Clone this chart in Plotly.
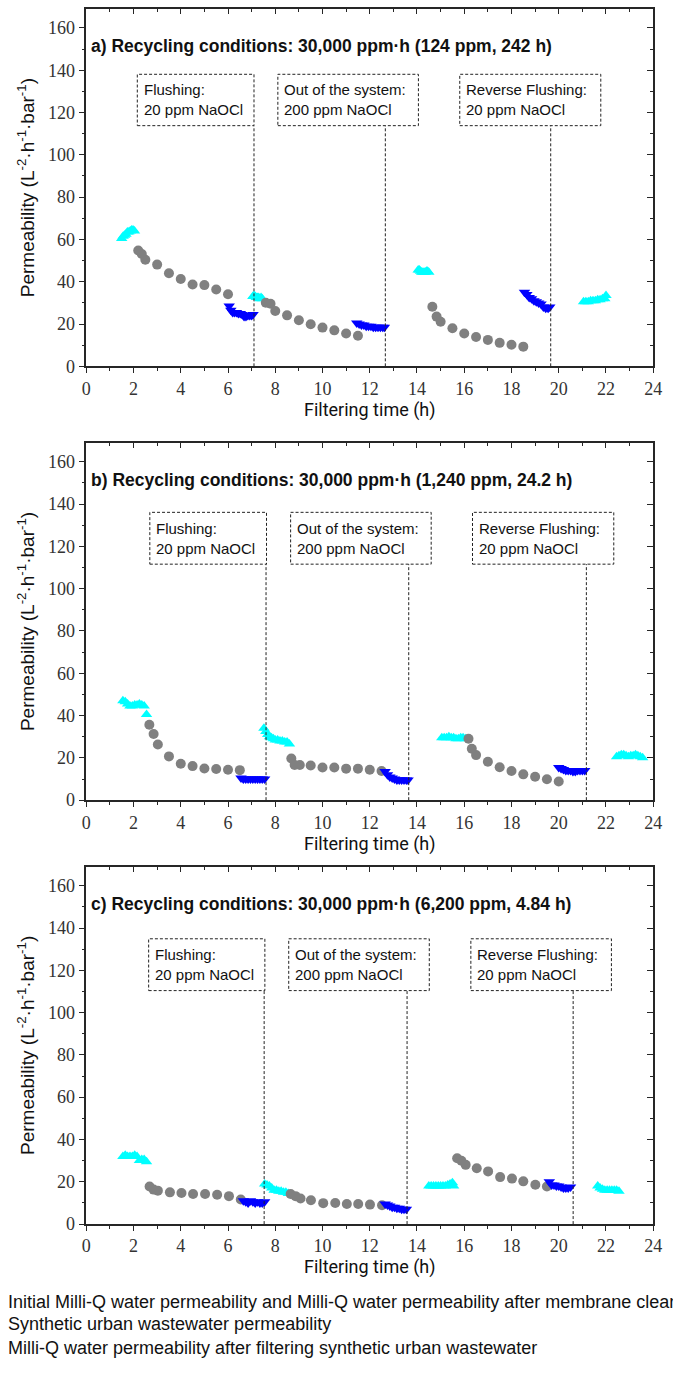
import plotly.graph_objects as go

# ---------------- data ----------------
# Panel a) 124 ppm, 242 h
a_mq_x = [1.50, 1.56, 1.62, 1.68, 1.74, 1.80, 1.86, 1.92, 1.98, 2.04,
          7.05, 7.10, 7.15, 7.20, 7.25, 7.30, 7.35, 7.40, 7.45,
          14.05, 14.10, 14.15, 14.20, 14.25, 14.30, 14.35, 14.40, 14.45, 14.50,
          21.05, 21.15, 21.25, 21.35, 21.45, 21.55, 21.65, 21.75, 21.85, 21.95, 22.00]
a_mq_y = [60.5, 61.5, 62.0, 62.5, 63.5, 63.5, 64.0, 64.5, 64.5, 64.0,
          33.0, 33.5, 33.0, 32.5, 32.5, 32.5, 32.0, 32.5, 32.0,
          45.5, 45.5, 45.0, 44.5, 44.5, 44.5, 44.5, 45.0, 45.0, 44.5,
          30.5, 30.5, 30.5, 31.0, 31.0, 31.0, 31.5, 31.5, 32.0, 32.0, 33.5]
a_ww_x = [2.2, 2.35, 2.5, 3.0, 3.5, 4.0, 4.5, 5.0, 5.5, 6.0,
          7.6, 7.8, 8.0, 8.5, 9.0, 9.5, 10.0, 10.5, 11.0, 11.5,
          14.65, 14.83, 15.0, 15.5, 16.0, 16.5, 17.0, 17.5, 18.0, 18.5]
a_ww_y = [54.8, 53.1, 50.4, 48.1, 44.0, 41.3, 38.7, 38.4, 36.3, 34.1,
          30.1, 29.6, 26.2, 24.1, 21.8, 19.9, 18.3, 17.0, 15.5, 14.5,
          28.2, 23.5, 21.1, 18.0, 15.5, 13.9, 12.5, 11.1, 10.2, 9.3]
a_af_x = [6.05, 6.12, 6.20, 6.28, 6.36, 6.44, 6.52, 6.60, 6.68, 6.76, 6.84, 6.92, 7.00, 7.06,
          11.45, 11.55, 11.65, 11.75, 11.85, 11.95, 12.05, 12.15, 12.25, 12.35, 12.45, 12.55, 12.62,
          18.55, 18.65, 18.75, 18.85, 18.95, 19.05, 19.15, 19.25, 19.35, 19.45, 19.55, 19.62]
a_af_y = [28.5, 26.5, 25.5, 25.5, 25.5, 25.0, 25.0, 24.5, 23.5, 23.5, 24.0, 24.0, 24.0, 24.5,
          20.5, 20.0, 19.5, 19.5, 19.0, 19.0, 19.0, 18.5, 18.5, 18.5, 18.5, 18.5, 18.5,
          35.0, 34.0, 32.5, 32.0, 31.0, 30.5, 30.0, 29.5, 28.0, 27.5, 27.5, 28.0]

# Panel b) 1,240 ppm, 24.2 h
b_mq_x = [1.55, 1.65, 1.75, 1.85, 1.95, 2.05, 2.15, 2.25, 2.35, 2.45, 2.55,
          7.52, 7.60, 7.68, 7.76, 7.84, 7.92, 8.00, 8.10, 8.20, 8.30, 8.40, 8.50, 8.60,
          15.05, 15.15, 15.25, 15.35, 15.45, 15.55, 15.65, 15.75, 15.85, 15.95, 16.05,
          22.45, 22.55, 22.65, 22.75, 22.85, 22.95, 23.05, 23.15, 23.25, 23.35, 23.45, 23.55]
b_mq_y = [47.0, 46.5, 45.5, 44.5, 44.5, 45.0, 45.0, 45.5, 45.0, 44.5, 40.5,
          34.0, 32.5, 31.0, 30.0, 29.5, 29.0, 28.5, 28.5, 28.0, 28.0, 27.5, 27.5, 26.5,
          29.5, 29.5, 29.5, 30.0, 29.5, 29.5, 29.0, 29.0, 29.5, 29.5, 29.0,
          20.5, 21.0, 21.5, 21.5, 21.0, 20.5, 21.0, 21.0, 21.5, 21.0, 20.5, 20.0]
b_ww_x = [2.67, 2.85, 3.03, 3.5, 4.0, 4.5, 5.0, 5.5, 6.0, 6.5,
          8.68, 8.82, 9.04, 9.5, 10.0, 10.5, 11.0, 11.5, 12.0, 12.5,
          16.18, 16.32, 16.5, 17.0, 17.5, 18.0, 18.5, 19.0, 19.5, 20.0]
b_ww_y = [35.7, 31.3, 26.3, 20.7, 17.2, 16.1, 15.0, 14.7, 14.4, 14.2,
          19.7, 16.6, 16.6, 16.4, 15.4, 15.4, 14.9, 14.9, 14.4, 13.8,
          29.0, 24.3, 21.3, 18.2, 15.6, 13.8, 12.2, 11.1, 9.9, 8.8]
b_af_x = [6.55, 6.65, 6.75, 6.85, 6.95, 7.05, 7.15, 7.25, 7.35, 7.45, 7.55,
          12.65, 12.75, 12.85, 12.95, 13.05, 13.15, 13.25, 13.35, 13.45, 13.55, 13.62,
          20.00, 20.10, 20.20, 20.30, 20.40, 20.50, 20.60, 20.70, 20.80, 20.90, 21.00, 21.10]
b_af_y = [10.5, 10.0, 10.0, 10.0, 10.0, 10.0, 10.0, 10.0, 10.0, 10.0, 10.0,
          13.5, 12.0, 11.0, 10.5, 10.0, 9.5, 9.5, 9.5, 9.5, 9.5, 9.5,
          15.5, 15.0, 14.5, 14.0, 14.0, 14.0, 13.5, 13.5, 14.0, 14.0, 14.0, 14.0]

# Panel c) 6,200 ppm, 4.84 h
c_mq_x = [1.55, 1.65, 1.75, 1.85, 1.95, 2.05, 2.15, 2.25, 2.35, 2.45, 2.55,
          7.55, 7.65, 7.75, 7.85, 7.95, 8.05, 8.15, 8.25, 8.35, 8.45, 8.55,
          14.50, 14.60, 14.70, 14.80, 14.90, 15.00, 15.10, 15.20, 15.30, 15.40, 15.50, 15.55,
          21.65, 21.75, 21.85, 21.95, 22.05, 22.15, 22.25, 22.35, 22.45, 22.55]
c_mq_y = [32.0, 32.5, 32.0, 32.0, 32.0, 32.5, 32.0, 30.0, 30.5, 30.5, 29.5,
          19.0, 18.5, 18.0, 17.0, 16.0, 16.0, 15.5, 15.5, 15.0, 15.0, 14.5,
          18.0, 18.0, 18.0, 18.0, 18.0, 18.0, 18.0, 18.0, 18.5, 19.0, 19.5, 18.0,
          18.0, 17.0, 16.5, 16.0, 16.0, 16.0, 16.0, 16.0, 16.0, 15.5]
c_ww_x = [2.68, 2.85, 3.03, 3.54, 4.03, 4.52, 5.03, 5.54, 6.04, 6.54,
          8.65, 8.86, 9.07, 9.51, 10.03, 10.54, 11.03, 11.51, 12.01, 12.52,
          15.7, 15.88, 16.06, 16.53, 17.01, 17.52, 18.02, 18.5, 19.01, 19.5]
c_ww_y = [17.8, 16.3, 15.8, 15.0, 14.7, 14.2, 14.2, 13.9, 13.2, 11.6,
          14.2, 13.2, 12.1, 11.3, 9.9, 10.0, 9.5, 9.5, 9.2, 8.9,
          31.1, 29.9, 28.0, 26.4, 24.9, 22.2, 21.5, 20.2, 18.6, 17.8]
c_af_x = [6.65, 6.75, 6.85, 6.95, 7.05, 7.15, 7.25, 7.35, 7.45, 7.55,
          12.65, 12.75, 12.85, 12.95, 13.05, 13.15, 13.25, 13.35, 13.45, 13.55,
          19.60, 19.70, 19.80, 19.90, 20.00, 20.10, 20.20, 20.30, 20.40, 20.50]
c_af_y = [11.0, 10.5, 10.0, 11.0, 10.5, 10.0, 10.5, 10.0, 10.0, 10.5,
          9.5, 9.0, 8.5, 8.0, 8.0, 7.5, 7.5, 7.0, 7.0, 7.0,
          20.0, 18.5, 18.5, 18.0, 18.0, 17.5, 17.0, 17.0, 17.0, 17.5]

panel_titles = [
    "a) Recycling conditions: 30,000 ppm·h (124 ppm, 242 h)",
    "b) Recycling conditions: 30,000 ppm·h (1,240 ppm, 24.2 h)",
    "c) Recycling conditions: 30,000 ppm·h (6,200 ppm, 4.84 h)",
]
cleaning_labels = ["Flushing:<br>20 ppm NaOCl",
                   "Out of the system:<br>200 ppm NaOCl",
                   "Reverse Flushing:<br>20 ppm NaOCl"]
# end-of-cleaning times (h) for each panel
cleaning_times = [[7.10, 12.66, 19.66],
                  [7.61, 13.65, 21.17],
                  [7.53, 13.58, 20.61]]
series_names = [
    "Initial Milli-Q water permeability and Milli-Q water permeability after membrane cleaning",
    "Synthetic urban wastewater permeability",
    "Milli-Q water permeability after filtering synthetic urban wastewater",
]

panels = [
    (a_mq_x, a_mq_y, a_ww_x, a_ww_y, a_af_x, a_af_y),
    (b_mq_x, b_mq_y, b_ww_x, b_ww_y, b_af_x, b_af_y),
    (c_mq_x, c_mq_y, c_ww_x, c_ww_y, c_af_x, c_af_y),
]

# ---------------- layout geometry ----------------
W, H = 673, 1380
X_DOM = [83 / W, 662 / W]
# (top, bottom) pixel rows of each plot box
rows = [(9, 369), (446, 806), (873, 1233)]
Y_RANGE = [0, 169]
X_RANGE = [0, 24]
# dashed boxes (x0, x1) in hours and (y_bottom, y_top) in permeability units
box_x = [[(2.16, 7.10), (8.11, 14.06), (15.81, 21.78)],
         [(2.69, 7.63), (8.65, 14.60), (16.35, 22.33)],
         [(2.64, 7.56), (8.57, 14.52), (16.28, 22.23)]]
box_y = [(113.8, 138.1), (111.6, 136.1), (110.4, 134.9)]

COL_MQ = "#00FFFF"
COL_WW = "#808080"
COL_AF = "#0000FF"
AX_COL = "#262626"
SERIF = "Liberation Serif, Times New Roman, serif"
SANS = "Liberation Sans, Arial, sans-serif"
TICK_FONT = dict(family=SERIF, size=18, color="#333333")

fig = go.Figure()
layout = dict(width=W, height=H, margin=dict(l=0, r=0, t=0, b=0),
              autosize=False, showlegend=False,
              paper_bgcolor="white", plot_bgcolor="white")
shapes, annotations = [], []

for i, (mqx, mqy, wwx, wwy, afx, afy) in enumerate(panels):
    k = i + 1
    xa, ya = f"x{k}", f"y{k}"
    top, bot = rows[i]
    ydom = [(H - bot) / H, (H - top) / H]

    fig.add_trace(go.Scatter(x=mqx, y=mqy, mode="markers", xaxis=xa, yaxis=ya,
                             name=series_names[0],
                             marker=dict(symbol="triangle-up", size=10, color=COL_MQ, line_width=0)))
    fig.add_trace(go.Scatter(x=wwx, y=wwy, mode="markers", xaxis=xa, yaxis=ya,
                             name=series_names[1],
                             marker=dict(symbol="circle", size=10, color=COL_WW, line_width=0)))
    fig.add_trace(go.Scatter(x=afx, y=afy, mode="markers", xaxis=xa, yaxis=ya,
                             name=series_names[2],
                             marker=dict(symbol="triangle-down", size=10, color=COL_AF, line_width=0)))

    # main axes: bottom / left, ticks outside, box frame via mirror
    layout[f"xaxis{k}"] = dict(
        domain=X_DOM, anchor=ya, range=X_RANGE, dtick=2, tick0=0,
        ticks="outside", ticklen=5, tickwidth=1.3, tickcolor=AX_COL,
        minor=dict(dtick=1, ticks="outside", ticklen=3, tickwidth=1.3, tickcolor=AX_COL),
        showline=True, linecolor=AX_COL, linewidth=1.5, mirror=True,
        showgrid=False, zeroline=False, tickfont=TICK_FONT,
        title=dict(text="Filtering time (h)", standoff=5,
                   font=dict(family="Roboto, sans-serif", size=18, color="#111111")))
    layout[f"yaxis{k}"] = dict(
        domain=ydom, anchor=xa, range=Y_RANGE, dtick=20, tick0=0,
        ticks="outside", ticklen=6, tickwidth=1.3, tickcolor=AX_COL,
        minor=dict(dtick=10, ticks="outside", ticklen=3, tickwidth=1.3, tickcolor=AX_COL),
        showline=True, linecolor=AX_COL, linewidth=1.5, mirror=True,
        showgrid=False, zeroline=False, tickfont=TICK_FONT,
        title=dict(text="Permeability (L<sup>-2</sup>·h<sup>-1</sup>·bar<sup>-1</sup>)", standoff=8,
                   font=dict(family=SANS, size=19, color="#111111")))
    # opposite-side axes with inward ticks
    layout[f"xaxis{k + 3}"] = dict(
        overlaying=xa, anchor=ya, side="top", range=X_RANGE, dtick=2, tick0=0,
        ticks="inside", ticklen=5, tickwidth=1.3, tickcolor=AX_COL,
        minor=dict(dtick=1, ticks="inside", ticklen=3, tickwidth=1.3, tickcolor=AX_COL),
        showticklabels=False, showline=False, showgrid=False, zeroline=False)
    layout[f"yaxis{k + 3}"] = dict(
        overlaying=ya, anchor=xa, side="right", range=Y_RANGE, dtick=20, tick0=0,
        ticks="inside", ticklen=6, tickwidth=1.3, tickcolor=AX_COL,
        minor=dict(dtick=10, ticks="inside", ticklen=3, tickwidth=1.3, tickcolor=AX_COL),
        showticklabels=False, showline=False, showgrid=False, zeroline=False)
    fig.add_trace(go.Scatter(x=[], y=[], xaxis=f"x{k + 3}", yaxis=f"y{k + 3}",
                             mode="markers", showlegend=False, hoverinfo="skip"))

    # panel heading
    annotations.append(dict(text=f"<b>{panel_titles[i]}</b>", xref=xa, yref=ya,
                            x=0.12, y=151.5, xanchor="left", yanchor="middle", showarrow=False,
                            font=dict(family=SANS, size=17.5, color="#111111")))
    # cleaning boxes and dashed markers down to the axis
    yb, yt = box_y[i]
    for j in range(3):
        x0, x1 = box_x[i][j]
        shapes.append(dict(type="rect", xref=xa, yref=ya, x0=x0, x1=x1, y0=yb, y1=yt,
                           line=dict(color="#222222", width=1, dash="3px,2px"),
                           fillcolor="rgba(0,0,0,0)", layer="above"))
        t = cleaning_times[i][j]
        shapes.append(dict(type="line", xref=xa, yref=ya, x0=t, x1=t, y0=0, y1=yb,
                           line=dict(color="#222222", width=1, dash="3px,2px"), layer="above"))
        annotations.append(dict(text=cleaning_labels[j], xref=xa, yref=ya,
                                x=x0 + 0.18, y=(yb + yt) / 2, xanchor="left", yanchor="middle",
                                align="left", showarrow=False,
                                font=dict(family=SANS, size=15, color="#111111")))

# series descriptions below the last panel
for n, (name, ypx) in enumerate(zip(series_names, [1311, 1334, 1358])):
    annotations.append(dict(text=name, xref="paper", yref="paper", x=1 / W, y=(H - ypx) / H,
                            xanchor="left", yanchor="middle", showarrow=False,
                            font=dict(family=SANS, size=18, color="#111111")))

layout["shapes"] = shapes
layout["annotations"] = annotations
fig.update_layout(**layout)
fig.write_html("out.html")
